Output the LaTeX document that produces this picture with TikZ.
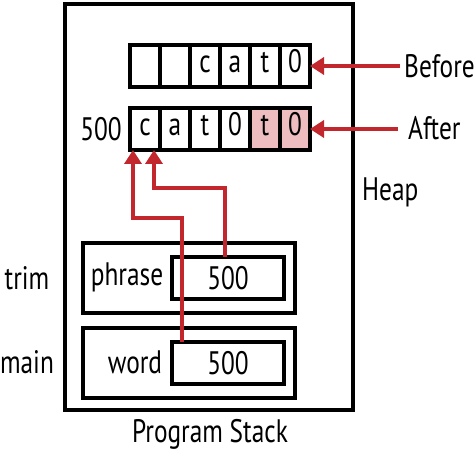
\documentclass[tikz,border=0pt]{standalone}
\usepackage{fontspec}
\setmainfont[FakeStretch=0.78]{PT Sans}
\usepackage{xcolor}
\definecolor{PtrRed}{HTML}{C1272D}
\definecolor{NewCell}{HTML}{EDBDBF}
\usetikzlibrary{arrows.meta}
\newcommand*{\mylabelstyle}{\fontsize{32.5}{34}\selectfont}
\tikzset{
  box/.style = {draw, line width = 3.5pt, inner sep = 0pt, outer sep = 0pt},
  cell/.style = {box, minimum width = 30pt, minimum height = 42pt},
  ptr/.style = {PtrRed, line width = 4pt,
    -{Triangle[length = 14pt, width = 17pt]}},
  lbl/.style = {inner sep = 0pt, font = \mylabelstyle}
}

\begin{document}
\begin{tikzpicture}[x = 1pt, y = -1pt]
  \useasboundingbox (0,0) rectangle (474,454);
  % program stack frame
  \node[box, minimum width = 288pt, minimum height = 406pt] (stack) at (209,207) {};
  \node[lbl] (stacklbl) at (210,434) {Program Stack};
  \node[lbl, anchor = west] (heap) at (362,192) {Heap};
  % heap cells, before and after
  \foreach \t [count = \i] in {{},{},c,a,t,0}
    \node[cell, lbl] (b\i) at ({115+30*\i},66) {\strut\t};
  \foreach \t [count = \i] in {c,a,t,0}
    \node[cell, lbl] (a\i) at ({115+30*\i},129) {\strut\t};
  \foreach \t [count = \i from 5] in {t,0}
    \node[cell, lbl, fill = NewCell] (a\i) at ({115+30*\i},129) {\strut\t};
  \node[lbl, anchor = east] (addr) at (122,129) {500};
  \node[lbl, anchor = west] (before) at (404,66) {Before};
  \node[lbl, anchor = west] (after) at (408,128) {After};
  \draw[ptr] ([xshift = -4pt]before.west) -- (b6.east);
  \draw[ptr] ([xshift = -10pt]after.west |- a6.east) -- (a6.east);
  % stack frames
  \node[box, minimum width = 212pt, minimum height = 70pt] (trimframe) at (189,278) {};
  \node[box, minimum width = 212pt, minimum height = 70pt] (mainframe) at (189,363) {};
  \node[lbl] (trim) at (27,278) {trim};
  \node[lbl] (main) at (27,362) {main};
  \node[lbl] (phrase) at (127,277) {phrase};
  \node[lbl] (word) at (135,362) {word};
  \node[box, lbl, minimum width = 112pt, minimum height = 42pt] (phraseval) at (228,278) {500};
  \node[box, lbl, minimum width = 112pt, minimum height = 42pt] (wordval) at (228,363) {500};
  % pointers into the heap
  \draw[ptr] ([xshift = 10pt]wordval.north west) -- ++(0,-124)
    -| ([xshift = 3pt]a1.south west);
  \draw[ptr] ([xshift = -3pt]phraseval.north) -- ++(0,-69)
    -| ([xshift = 24pt]a1.south west);
\end{tikzpicture}
\end{document}
